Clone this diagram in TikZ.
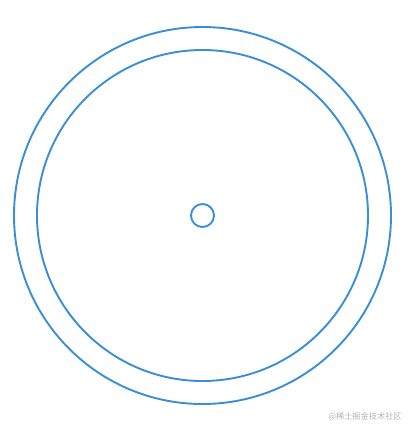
\documentclass[tikz,border=0pt]{standalone}
\usepackage{fontspec}
\newfontfamily\cjk{Noto Sans CJK SC}
\usetikzlibrary{positioning}
\definecolor{ringblue}{RGB}{58,142,216}
\tikzset{ring/.style = {circle, draw = ringblue, line width = 1.9bp, inner sep = 0pt},
  mark text/.style = {text = black!30, font = \cjk\fontsize{8.2bp}{9bp}\selectfont}}

\begin{document}
\begin{tikzpicture}[x = 1bp, y = -1bp]
  \useasboundingbox (0, 0) rectangle (410, 424);
  % rings
  \node [ring, minimum size = 377bp] (outer) at (202.5, 215.5) {};
  \node [ring, minimum size = 331bp] (inner) at (outer.center) {};
  \node [ring, minimum size = 23bp] (hub) at (outer.center) {};
  % watermark
  \node [mark text] (mark) at (365, 417) {@稀土掘金技术社区};
\end{tikzpicture}
\end{document}
